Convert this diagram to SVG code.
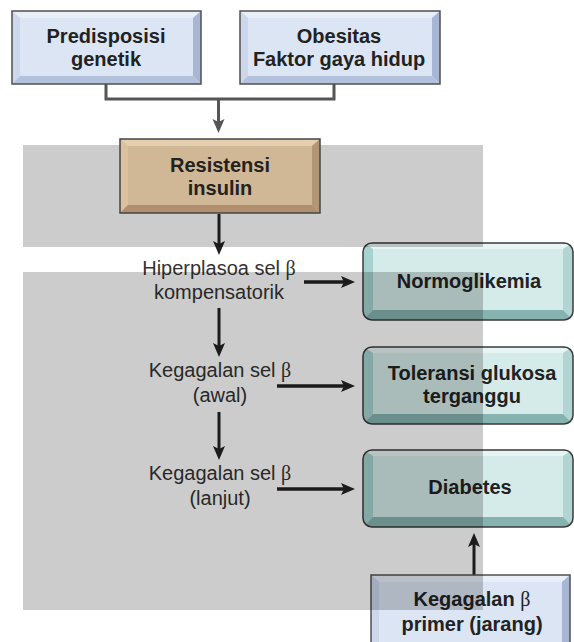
<svg xmlns="http://www.w3.org/2000/svg" xmlns:xlink="http://www.w3.org/1999/xlink" width="574" height="642" viewBox="0 0 574 642">
<style>
.lbl{font-family:"Liberation Sans",Arial,sans-serif;font-size:20px;font-weight:bold;fill:#222;text-anchor:middle}
.txt{font-family:"Liberation Sans",Arial,sans-serif;font-size:20px;fill:#333;text-anchor:middle}
.beta{font-family:"Liberation Serif","Times New Roman",serif;font-weight:normal}
.bb-face{fill:#dbe5f4}.bb-top{fill:#e9eff9}.bb-left{fill:#ccd7eb}.bb-right{fill:#a6b6d4}.bb-bot{fill:#b3c1dc}
.tb-face{fill:#d0b795}.tb-top{fill:#e4cfae}.tb-left{fill:#dbc19e}.tb-right{fill:#b39676}.tb-bot{fill:#b08f6f}
.border{fill:none;stroke:#505050;stroke-width:1.5}
.gc{fill:none;stroke:#555;stroke-width:3}
.ac{fill:none;stroke:#222;stroke-width:3}
.ah{fill:none;stroke:#222;stroke-width:3.5}
.panel{fill:#000;fill-opacity:0.2}
</style>
<defs>
<marker id="headG" markerUnits="userSpaceOnUse" markerWidth="16" markerHeight="14" refX="8" refY="6" orient="auto">
<path d="M0,0 L14,6 L0,12 L3,6 Z" fill="#555"/>
</marker>
<marker id="headK" markerUnits="userSpaceOnUse" markerWidth="16" markerHeight="14" refX="8" refY="6" orient="auto">
<path d="M0,0 L14,6 L0,12 L3,6 Z" fill="#222"/>
</marker>
<clipPath id="tealClip"><rect x="0" y="0" width="210" height="77" rx="9"/></clipPath>
<g id="tealBox">
<g clip-path="url(#tealClip)">
<rect x="0" y="0" width="210" height="77" fill="#d4ebe9"/>
<path d="M0,0 L210,0 L200,6 L10,6 Z" fill="#e6f4f3"/>
<path d="M0,0 L10,6 L10,67 L0,77 Z" fill="#a6d3d0"/>
<path d="M210,0 L200,6 L200,67 L210,77 Z" fill="#b0d5d3"/>
<path d="M0,77 L10,67 L200,67 L210,77 Z" fill="#86b3b0"/>
</g>
<rect x="0" y="0" width="210" height="77" rx="9" fill="none" stroke="#3a3a3a" stroke-width="1.5"/>
</g>
</defs>

<rect x="0" y="0" width="574" height="642" fill="#fff"/>

<g id="connectors">
<path class="gc" d="M106,84 V99 H334 V84"/>
<path class="gc" d="M218.5,99 V127" marker-end="url(#headG)"/>
<path class="ac" d="M219,214 V249" marker-end="url(#headK)"/>
<path class="ac" d="M219,308 V351" marker-end="url(#headK)"/>
<path class="ac" d="M219,412 V454" marker-end="url(#headK)"/>
<path class="ah" d="M304,282 H349" marker-end="url(#headK)"/>
<path class="ah" d="M277,386 H349" marker-end="url(#headK)"/>
<path class="ah" d="M277,489 H349" marker-end="url(#headK)"/>
<path class="ac" d="M474,575 V539" marker-end="url(#headK)"/>
</g>

<g id="node-predisposisi">
<rect class="bb-face" x="12" y="11" width="189" height="73"/>
<path class="bb-top" d="M12,11 H201 L193,18 H20 Z"/>
<path class="bb-left" d="M12,11 L20,18 V76 L12,84 Z"/>
<path class="bb-right" d="M201,11 L193,18 V76 L201,84 Z"/>
<path class="bb-bot" d="M12,84 L20,76 H193 L201,84 Z"/>
<rect class="border" x="12" y="11" width="189" height="73"/>
<text class="lbl" x="106" y="43">Predisposisi</text>
<text class="lbl" x="106" y="66">genetik</text>
</g>

<g id="node-obesitas">
<rect class="bb-face" x="240" y="11" width="200" height="73"/>
<path class="bb-top" d="M240,11 H440 L432,18 H248 Z"/>
<path class="bb-left" d="M240,11 L248,18 V76 L240,84 Z"/>
<path class="bb-right" d="M440,11 L432,18 V76 L440,84 Z"/>
<path class="bb-bot" d="M240,84 L248,76 H432 L440,84 Z"/>
<rect class="border" x="240" y="11" width="200" height="73"/>
<text class="lbl" x="339" y="43">Obesitas</text>
<text class="lbl" x="339" y="66">Faktor gaya hidup</text>
</g>

<g id="node-hiperplasia">
<text class="txt" x="219" y="275">Hiperplasoa sel <tspan class="beta">β</tspan></text>
<text class="txt" x="219" y="299">kompensatorik</text>
</g>

<g id="node-kegagalan-awal">
<text class="txt" x="220" y="377">Kegagalan sel <tspan class="beta">β</tspan></text>
<text class="txt" x="220" y="402">(awal)</text>
</g>

<g id="node-kegagalan-lanjut">
<text class="txt" x="220" y="480">Kegagalan sel <tspan class="beta">β</tspan></text>
<text class="txt" x="220" y="505">(lanjut)</text>
</g>

<g id="node-normoglikemia">
<use xlink:href="#tealBox" href="#tealBox" transform="translate(363,243)"/>
<text class="lbl" x="469" y="288">Normoglikemia</text>
</g>

<g id="node-toleransi">
<use xlink:href="#tealBox" href="#tealBox" transform="translate(363,347)"/>
<text class="lbl" x="472" y="380">Toleransi glukosa</text>
<text class="lbl" x="472" y="403">terganggu</text>
</g>

<g id="node-diabetes">
<use xlink:href="#tealBox" href="#tealBox" transform="translate(363,450)"/>
<text class="lbl" x="470" y="494">Diabetes</text>
</g>

<g id="node-kegagalan-primer">
<rect class="bb-face" x="371" y="575" width="199" height="80"/>
<path class="bb-top" d="M371,575 H570 L562,582 H379 Z"/>
<path class="bb-left" d="M371,575 L379,582 V655 L371,655 Z"/>
<path class="bb-right" d="M570,575 L562,582 V655 L570,655 Z"/>
<rect class="border" x="371" y="575" width="199" height="80"/>
<text class="lbl" x="472" y="606">Kegagalan <tspan class="beta">β</tspan></text>
<text class="lbl" x="472" y="631">primer (jarang)</text>
</g>

<g id="panels">
<rect class="panel" x="23" y="145" width="460" height="102"/>
<rect class="panel" x="23" y="272" width="460" height="338"/>
</g>

<g id="node-resistensi">
<rect class="tb-face" x="120" y="139" width="200" height="74"/>
<path class="tb-top" d="M120,139 H320 L312,146 H128 Z"/>
<path class="tb-left" d="M120,139 L128,146 V205 L120,213 Z"/>
<path class="tb-right" d="M320,139 L312,146 V205 L320,213 Z"/>
<path class="tb-bot" d="M120,213 L128,205 H312 L320,213 Z"/>
<rect class="border" x="120" y="139" width="200" height="74" style="stroke:#444"/>
<text class="lbl" x="220" y="172">Resistensi</text>
<text class="lbl" x="220" y="195">insulin</text>
</g>
</svg>
